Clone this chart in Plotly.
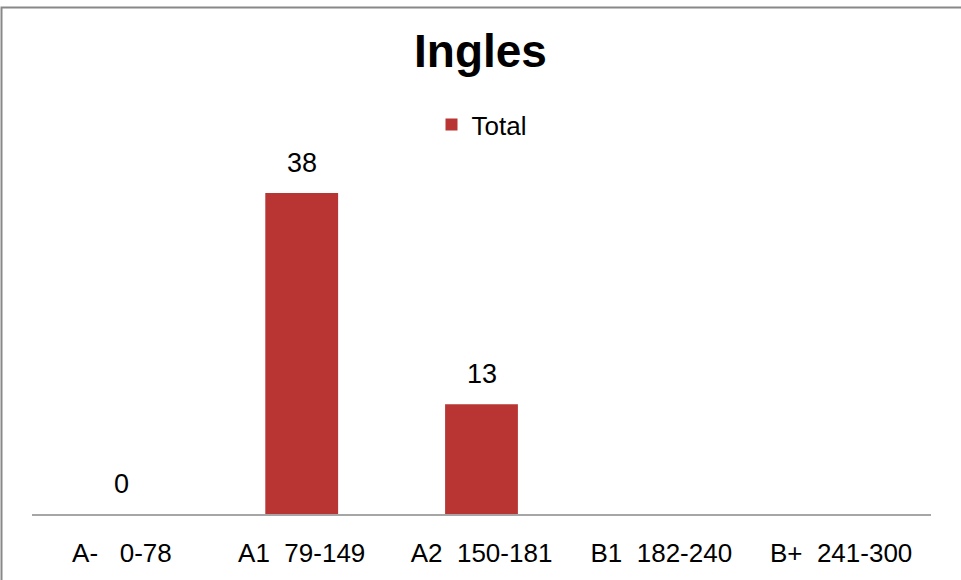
import plotly.graph_objects as go

categories = ["A-   0-78", "A1  79-149", "A2  150-181", "B1  182-240", "B+  241-300"]
values = [0, 38, 13, None, None]
series_name = "Total"
title_text = "Ingles"

FONT = "Liberation Sans, Arial, sans-serif"

fig = go.Figure()
fig.add_trace(go.Bar(
    x=categories, y=values, name=series_name,
    marker=dict(color="#B83533", line=dict(width=0)),
    width=0.405, showlegend=True,
))

annotations = []
for c, v in zip(categories, values):
    if v is None:
        continue
    annotations.append(dict(
        x=c, y=v, xref="x", yref="y", text=str(v), showarrow=False,
        yanchor="bottom", yshift=13,
        font=dict(family=FONT, size=27, color="#000000"),
    ))

fig.update_layout(
    width=961, height=580,
    margin=dict(l=32, r=30, t=176, b=62, pad=0),
    paper_bgcolor="white", plot_bgcolor="white",
    title=dict(text="<b>" + title_text + "</b>", x=0.5, xanchor="center",
               y=0.912, yanchor="middle",
               font=dict(family=FONT, size=46, color="#000000")),
    legend=dict(orientation="h", x=0.5, xanchor="center", y=1.152, yanchor="middle",
                font=dict(family=FONT, size=26, color="#000000"),
                bgcolor="rgba(0,0,0,0)", itemwidth=30),
    xaxis=dict(showline=True, linecolor="#A6A6A6", linewidth=2,
               showgrid=False, zeroline=False, ticks="",
               ticklabelstandoff=15,
               tickfont=dict(family=FONT, size=26, color="#000000")),
    yaxis=dict(visible=False, range=[0, 40], showgrid=False, zeroline=False),
    annotations=annotations,
    shapes=[dict(type="rect", xref="paper", yref="paper",
                 x0=(1.5 - 32) / 899, x1=(975 - 32) / 899,
                 y0=(518 - 600) / 342, y1=(518 - 5.5) / 342,
                 line=dict(color="#888888", width=2), fillcolor="rgba(0,0,0,0)",
                 layer="below")],
)

fig.write_html("out.html", config={"displayModeBar": False},
               post_script="document.body.style.margin='0';")
